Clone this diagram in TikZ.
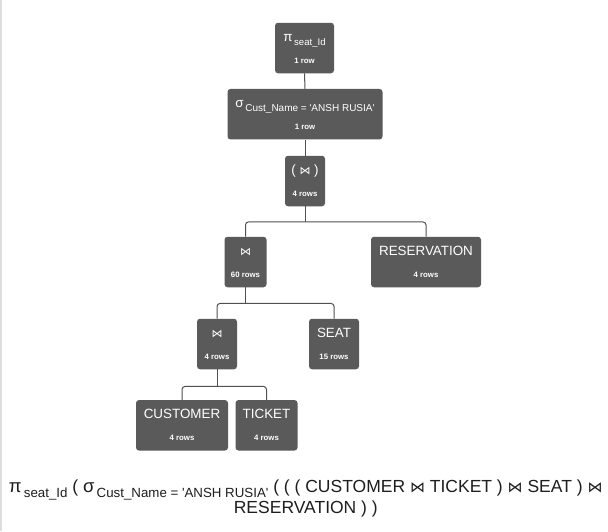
\documentclass[tikz,border=0pt]{standalone}
\usepackage{fontspec}
\setmainfont{Liberation Sans}
\newfontfamily\djv{DejaVu Sans}
\definecolor{boxgray}{HTML}{5A5A5A}
\definecolor{linegray}{HTML}{505050}
\definecolor{edgegray}{HTML}{DDDDDD}
\definecolor{formula}{HTML}{1E1E1E}
\newcommand\jn[1]{{\djv\fontsize{#1}{#1}\selectfont ⋈}}
\tikzset{
  qbox/.style={rectangle, rounded corners=3pt, fill=boxgray, minimum height=50.5pt, inner sep=0pt},
  qtitle/.style={text=white, font=\fontsize{13.4}{14}\selectfont, inner sep=0pt, anchor=base},
  qrows/.style={text=white, font=\fontsize{7.8}{8}\selectfont\bfseries, inner sep=0pt, anchor=base},
  conn/.style={draw=linegray, line width=1pt, rounded corners=3pt},
  formtext/.style={text=formula, font=\fontsize{17.5}{20}\selectfont, inner sep=0pt, anchor=base}
}
\newcommand\qnode[6]{%
  \node[qbox, minimum width=#4pt] (#1) at (#2,#3) {};
  \node[qtitle] (#1-t) at ([yshift=-19pt]#1.north) {#5};
  \node[qrows] (#1-r) at ([yshift=-41pt]#1.north) {#6};}
\begin{document}
\begin{tikzpicture}[x=1pt,y=-1pt]
\useasboundingbox[fill=white] (0,0) rectangle (608,531);
\draw[edgegray, line width=1.5pt] (0.75,0) -- (0.75,531);

\qnode{pi}{304.5}{48}{59}{π\raisebox{-3.5pt}{\fontsize{9.6}{10}\selectfont\,seat\_Id}}{1 row}
\qnode{sig}{305}{114.2}{155}{σ\raisebox{-3.5pt}{\fontsize{10}{10}\selectfont\,Cust\_Name = \textquotesingle ANSH RUSIA\textquotesingle}}{1 row}
\qnode{j1}{305}{181}{40}{( \jn{11} )}{4 rows}
\qnode{j2}{245.5}{262}{42}{\jn{11}}{60 rows}
\qnode{res}{426}{262}{110}{RESERVATION}{4 rows}
\qnode{j3}{217}{344}{40}{\jn{11}}{4 rows}
\qnode{seat}{334}{344}{50}{SEAT}{15 rows}
\qnode{cust}{182}{425.3}{92}{CUSTOMER}{4 rows}
\qnode{tick}{266.5}{425.3}{62}{TICKET}{4 rows}

\coordinate (m1) at ([yshift=-15.5pt]j1.south);
\coordinate (m2) at ([yshift=-16pt]j2.south);
\coordinate (m3) at ([yshift=-17pt]j3.south);

\draw[conn] (pi.south) -- (sig.north);
\draw[conn] (sig.south) -- (j1.north);
\draw[conn] (j1.south) -- (m1);
\draw[conn] (j2.north) |- (m1) -| (res.north);
\draw[conn] (j2.south) -- (m2);
\draw[conn] (j3.north) |- (m2) -| (seat.north);
\draw[conn] (j3.south) -- (m3);
\draw[conn] (cust.north) |- (m3) -| (tick.north);

\node[formtext] (f1) at (305.7,492.5) {{\fontsize{18.5}{20}\selectfont π}\raisebox{-4.5pt}{\fontsize{13.3}{14}\selectfont\,seat\_Id} ( {\fontsize{18.5}{20}\selectfont σ}\raisebox{-4.5pt}{\fontsize{13.3}{14}\selectfont\,Cust\_Name = \textquotesingle ANSH RUSIA\textquotesingle} ( ( ( CUSTOMER \jn{15} TICKET ) \jn{15} SEAT ) \jn{15}};
\node[formtext] (f2) at (305.8,513) {RESERVATION ) )};
\end{tikzpicture}
\end{document}
